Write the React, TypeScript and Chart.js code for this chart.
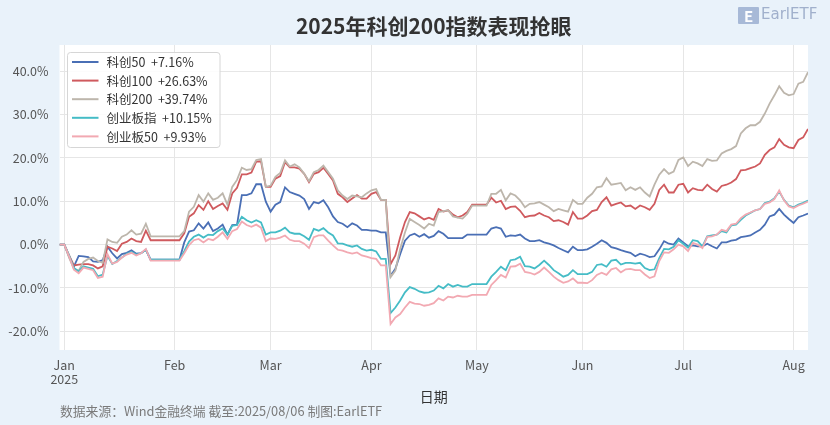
import { useEffect, useRef } from "react";
import { Chart, registerables } from "chart.js";

Chart.register(...registerables);

// business-day index: 0 = 2024-12-31 ... 156 = 2025-08-06 (holidays carry the previous close)
const monthTickIndex = [1, 24, 44, 65, 87, 109, 130, 153];
const monthTickLabels: (string | string[])[] = [["Jan", "2025"], "Feb", "Mar", "Apr", "May", "Jun", "Jul", "Aug"];
const yTicks = [-20, -10, 0, 10, 20, 30, 40];

const seriesNames = ["科创50", "科创100", "科创200", "创业板指", "创业板50"];
const seriesReturns = ["+7.16%", "+26.63%", "+39.74%", "+10.15%", "+9.93%"];
const seriesColors = ["#4a6fb5", "#cf5a5e", "#bdb6ac", "#45bcc6", "#f2a9b2"];

const kc50 = [
  0, 0, -2.8, -5.1, -2.6, -2.7, -2.9, -3.9, -4.0, -3.6,
  -0.5, -2.0, -3.2, -2.2, -1.9, -1.3, -2.1, -2.0, -1.2, -3.5,
  -3.5, -3.5, -3.5, -3.5, -3.5, -3.5, 0.5, 3.0, 3.3, 4.9,
  3.7, 5.1, 3.1, 3.7, 4.6, 2.3, 4.5, 4.6, 11.4, 11.4,
  11.8, 13.9, 13.9, 9.9, 7.6, 9.2, 9.8, 13.2, 12.1, 11.7,
  11.3, 10.5, 8.2, 9.8, 9.5, 10.2, 8.6, 6.5, 5.2, 4.8,
  4.0, 4.9, 4.4, 3.4, 3.4, 3.2, 3.2, 2.8, 2.8, -7.2,
  -5.6, -2.2, 0.9, 2.1, 2.5, 1.8, 2.4, 1.6, 2.0, 3.1,
  2.5, 1.5, 1.5, 1.5, 1.5, 2.3, 2.3, 2.3, 2.3, 2.3,
  3.7, 4.0, 3.7, 1.8, 2.1, 2.0, 2.3, 1.4, 0.8, 0.8,
  1.0, 0.5, 0.2, -0.2, -0.8, -1.3, -1.8, -0.5, -1.3, -1.3,
  -1.1, -0.5, 0.2, 1.0, 0.4, -0.6, -0.9, -1.3, -1.6, -1.9,
  -2.7, -2.1, -2.4, -2.9, -2.7, -1.1, 0.8, 0.2, 0.0, 1.4,
  0.5, -0.4, -0.2, -0.4, -0.4, 0.2, -0.4, -0.9, 0.5, 0.5,
  0.9, 1.1, 1.7, 1.9, 2.1, 2.8, 3.4, 4.6, 6.5, 6.9,
  8.2, 6.9, 5.9, 5.0, 6.3, 6.7, 7.16,
];

const kc100 = [
  0, 0, -2.5, -4.8, -4.6, -4.5, -4.5, -4.8, -5.5, -5.0,
  -0.5, -0.9, -1.5, 0.2, 0.6, 1.4, 0.8, 0.6, 3.2, 1.0,
  1.0, 1.0, 1.0, 1.0, 1.0, 1.0, 2.6, 6.4, 7.2, 9.1,
  8.0, 10.0, 8.2, 8.9, 9.5, 8.0, 11.8, 13.1, 16.2, 16.2,
  16.6, 19.1, 19.2, 13.3, 13.3, 15.2, 15.8, 19.0, 17.8, 17.8,
  17.5, 16.3, 14.4, 16.3, 16.7, 17.7, 16.3, 14.8, 11.7, 10.9,
  9.8, 10.6, 11.4, 10.6, 10.6, 11.7, 12.1, 10.3, 10.3, -4.5,
  -2.5, 1.7, 5.2, 7.5, 7.2, 6.5, 5.8, 6.2, 5.7, 8.2,
  7.6, 7.9, 6.9, 6.3, 6.7, 7.5, 9.2, 9.2, 9.2, 9.2,
  10.8, 9.7, 10.1, 8.2, 8.7, 8.8, 7.8, 6.3, 6.6, 6.7,
  7.3, 6.7, 6.3, 5.4, 5.6, 5.2, 4.6, 7.5, 6.0, 6.0,
  6.7, 7.7, 8.0, 9.8, 10.9, 9.0, 9.4, 9.7, 8.8, 9.0,
  8.2, 9.0, 8.6, 8.0, 9.4, 12.6, 13.8, 12.0, 12.0, 13.8,
  14.0, 12.0, 13.0, 12.6, 12.5, 13.8, 12.8, 12.2, 13.5, 13.8,
  14.3, 15.1, 17.1, 17.2, 17.6, 18.0, 18.7, 20.7, 21.8, 22.4,
  24.3, 23.0, 22.4, 22.2, 24.1, 24.7, 26.63,
];

const kc200 = [
  0, 0, -3.0, -5.6, -6.0, -4.0, -3.3, -3.0, -3.8, -4.2,
  1.2, 0.6, 0.4, 1.8, 2.3, 3.3, 2.3, 2.5, 4.8, 1.9,
  1.9, 1.9, 1.9, 1.9, 1.9, 1.9, 3.1, 7.6, 8.7, 11.4,
  9.9, 11.8, 10.3, 10.8, 11.8, 9.2, 13.3, 14.9, 17.7, 17.2,
  17.4, 19.5, 19.7, 13.3, 13.6, 15.6, 16.5, 19.4, 18.0, 18.5,
  17.8, 16.3, 14.6, 16.7, 17.2, 18.2, 16.7, 15.2, 12.5, 11.3,
  10.5, 11.3, 11.1, 10.9, 11.8, 12.5, 12.8, 10.3, 10.3, -7.5,
  -6.0, -1.0, 2.8, 5.9, 5.2, 4.5, 3.7, 4.8, 4.4, 7.5,
  7.7, 7.9, 6.5, 6.2, 6.0, 7.1, 9.0, 9.0, 9.0, 9.0,
  11.7, 11.7, 12.6, 10.2, 11.8, 11.3, 10.2, 8.6, 9.4, 9.5,
  9.8, 9.2, 8.6, 7.7, 8.2, 7.9, 7.6, 10.3, 9.4, 9.4,
  10.8, 11.7, 13.2, 13.4, 15.3, 13.8, 14.0, 14.2, 12.5, 13.2,
  12.6, 13.2, 12.0, 11.1, 13.8, 16.1, 17.4, 16.3, 16.8, 19.5,
  20.1, 18.1, 19.1, 18.7, 18.1, 19.7, 19.3, 19.4, 21.0, 21.6,
  22.0, 22.7, 25.6, 26.8, 27.5, 27.5, 28.3, 30.2, 32.5, 34.4,
  36.5, 35.0, 34.4, 34.7, 37.1, 37.5, 39.74,
];

const cyb = [
  0, 0, -2.5, -5.4, -6.2, -5.0, -5.3, -5.6, -7.3, -6.9,
  -2.6, -4.5, -3.8, -3.0, -2.1, -1.7, -2.3, -2.0, -1.2, -3.5,
  -3.5, -3.5, -3.5, -3.5, -3.5, -3.5, -1.5, 0.7, 1.8, 2.3,
  1.6, 2.3, 2.2, 3.1, 3.7, 2.3, 4.3, 4.5, 6.4, 5.6,
  5.1, 5.6, 5.1, 2.3, 2.8, 2.8, 3.2, 3.9, 2.8, 2.5,
  2.5, 1.9, 1.1, 3.6, 3.2, 3.8, 2.8, 2.1, 0.3, 0.2,
  -0.2, -0.5, -0.2, -1.0, -1.4, -1.2, -1.6, -3.3, -3.3, -15.8,
  -14.5, -12.9, -11.0, -9.8, -10.2, -10.8, -11.1, -11.0, -10.6, -9.5,
  -10.1, -9.1, -9.7, -9.3, -9.7, -9.7, -9.1, -9.1, -9.1, -9.1,
  -7.4, -6.3, -5.1, -5.9, -3.6, -3.4, -2.8, -5.0, -5.1, -5.5,
  -4.7, -3.7, -4.7, -5.9, -6.6, -7.4, -7.0, -5.9, -6.8, -6.8,
  -6.8, -6.3, -4.7, -4.5, -5.1, -3.7, -3.5, -4.6, -4.2, -4.2,
  -4.4, -4.2, -5.4, -5.9, -5.7, -3.1, -1.0, -1.1, -0.5, 1.0,
  0.2, -0.7, 1.0, 0.8, -0.4, 1.9, 2.1, 2.3, 3.1, 2.8,
  4.4, 4.6, 5.7, 6.7, 7.3, 7.9, 8.2, 9.6, 9.9, 10.7,
  12.2, 10.3, 9.0, 8.6, 9.2, 9.6, 10.15,
];

const cyb50 = [
  0, 0, -2.7, -5.8, -6.6, -5.3, -5.6, -5.9, -7.7, -7.4,
  -2.2, -4.4, -4.0, -3.0, -2.3, -1.9, -2.5, -2.0, -1.0, -3.7,
  -3.7, -3.7, -3.7, -3.7, -3.7, -3.7, -2.0, -0.1, 1.0, 1.3,
  0.5, 1.3, 1.0, 1.8, 2.8, 1.3, 3.1, 3.6, 5.3, 4.5,
  4.1, 4.6, 3.9, 0.8, 1.4, 1.3, 1.6, 2.1, 1.1, 0.8,
  0.8, 0.2, -0.8, 1.7, 2.1, 2.1, 0.9, -0.2, -1.2, -1.4,
  -1.8, -2.1, -1.8, -2.5, -2.8, -3.1, -3.3, -4.8, -4.8, -18.3,
  -16.8, -16.0, -14.5, -13.2, -13.6, -13.7, -14.1, -13.9, -13.5, -12.4,
  -12.9, -12.0, -12.2, -11.8, -12.0, -12.0, -11.6, -11.6, -11.6, -11.6,
  -9.3, -8.2, -7.0, -7.6, -5.1, -5.0, -4.4, -6.3, -6.5, -6.9,
  -6.3, -5.3, -6.3, -7.4, -8.2, -8.8, -8.5, -7.8, -8.8, -8.8,
  -8.9, -8.2, -7.0, -6.5, -7.0, -5.7, -5.4, -6.4, -5.7, -5.6,
  -5.9, -5.9, -6.9, -7.7, -7.3, -3.8, -1.8, -1.9, -1.1, 0.0,
  -0.4, -1.5, 0.4, 0.0, -0.8, 1.8, 1.9, 2.3, 3.4, 3.1,
  4.6, 4.8, 6.1, 6.9, 7.4, 7.9, 8.2, 9.4, 9.7, 10.5,
  12.5, 10.2, 8.8, 8.4, 9.0, 9.4, 9.93,
];

const allSeries = [kc50, kc100, kc200, cyb, cyb50];

const FONT = '"Noto Sans CJK SC", "Noto Sans", sans-serif';

const plotBackground = {
  id: "plotBackground",
  beforeDraw(chart: any) {
    const { ctx, chartArea } = chart;
    ctx.save();
    ctx.fillStyle = "#ffffff";
    ctx.fillRect(chartArea.left, chartArea.top, chartArea.right - chartArea.left, chartArea.bottom - chartArea.top);
    ctx.restore();
  },
};

const boxLegend = {
  id: "boxLegend",
  afterDatasetsDraw(chart: any) {
    const { ctx, chartArea } = chart;
    const x = chartArea.left + 8;
    const y = chartArea.top + 7.5;
    const w = 152.5;
    const h = 95;
    ctx.save();
    ctx.beginPath();
    ctx.roundRect(x, y, w, h, 3);
    ctx.fillStyle = "rgba(255,255,255,0.85)";
    ctx.fill();
    ctx.strokeStyle = "#d6d6d6";
    ctx.lineWidth = 1;
    ctx.stroke();
    ctx.font = `12.5px ${FONT}`;
    ctx.textBaseline = "middle";
    seriesNames.forEach((name, k) => {
      const ry = y + 9.5 + k * 18.6;
      ctx.beginPath();
      ctx.moveTo(x + 4.5, ry);
      ctx.lineTo(x + 31, ry);
      ctx.strokeStyle = seriesColors[k];
      ctx.lineWidth = 2;
      ctx.stroke();
      ctx.fillStyle = "#333333";
      ctx.fillText(`${name}  ${seriesReturns[k]}`, x + 39, ry + 0.5);
    });
    ctx.restore();
  },
};

export default function App() {
  const canvasRef = useRef<HTMLCanvasElement | null>(null);

  useEffect(() => {
    if (!canvasRef.current) return;
    const datasets = allSeries.map((values, k) => ({
      label: seriesNames[k],
      data: values.map((v, i) => ({ x: i, y: v })),
      borderColor: seriesColors[k],
      backgroundColor: seriesColors[k],
      borderWidth: 1.8,
      pointRadius: 0,
      tension: 0,
      order: 5 - k,
    }));
    const chart = new Chart(canvasRef.current, {
      type: "line",
      data: { datasets },
      options: {
        animation: false,
        responsive: false,
        layout: { padding: { left: 0, right: 22, top: 45, bottom: 0 } },
        plugins: {
          legend: { display: false },
          tooltip: { enabled: false },
        },
        scales: {
          x: {
            type: "linear",
            min: 0,
            max: 156,
            afterBuildTicks: (s: any) => {
              s.ticks = monthTickIndex.map((v) => ({ value: v }));
            },
            afterFit: (s: any) => {
              s.height = 75;
            },
            ticks: {
              autoSkip: false,
              maxRotation: 0,
              padding: 8,
              color: "#555555",
              font: { family: FONT, size: 12.5, lineHeight: 1.15 },
              callback: (_v: any, index: number) => monthTickLabels[index],
            },
            grid: { color: "#e6e6e6", drawTicks: false, lineWidth: 1 },
            border: { display: false },
          },
          y: {
            min: -24.3,
            max: 46,
            afterBuildTicks: (s: any) => {
              s.ticks = yTicks.map((v) => ({ value: v }));
            },
            afterFit: (s: any) => {
              s.width = 59.5;
            },
            ticks: {
              padding: 11,
              color: "#555555",
              font: { family: FONT, size: 12.5 },
              callback: (v: any) => `${Number(v).toFixed(1)}%`,
            },
            grid: { color: "#e6e6e6", drawTicks: false, lineWidth: 1 },
            border: { display: false },
          },
        },
      },
      plugins: [plotBackground, boxLegend],
    } as any);
    return () => chart.destroy();
  }, []);

  return (
    <div
      style={{
        position: "fixed",
        left: 0,
        top: 0,
        width: 830,
        height: 425,
        background: "#e9f2fa",
        overflow: "hidden",
        fontFamily: FONT,
      }}
    >
      <canvas ref={canvasRef} width={830} height={425} style={{ position: "absolute", left: 0, top: 0, width: 830, height: 425 }} />
      <div
        style={{
          position: "absolute",
          left: 59.5,
          width: 748.5,
          top: 12,
          lineHeight: "26px",
          textAlign: "center",
          fontSize: 21,
          fontWeight: 700,
          color: "#333333",
        }}
      >
        2025年科创200指数表现抢眼
      </div>
      <div
        style={{
          position: "absolute",
          left: 59.5,
          width: 748.5,
          top: 386,
          lineHeight: "20px",
          textAlign: "center",
          fontSize: 14,
          color: "#333333",
        }}
      >
        日期
      </div>
      <div
        style={{
          position: "absolute",
          left: 60,
          top: 403,
          lineHeight: "16px",
          fontSize: 12.8,
          color: "#7a7a7a",
          whiteSpace: "nowrap",
        }}
      >
        数据来源：Wind金融终端 截至:2025/08/06 制图:EarlETF
      </div>
      <div style={{ position: "absolute", left: 738, top: 7, display: "flex", alignItems: "flex-start", opacity: 0.85 }}>
        <div
          style={{
            width: 21,
            height: 17,
            background: "#9cb0d0",
            color: "#ffffff",
            fontSize: 15,
            fontWeight: 700,
            lineHeight: "17px",
            textAlign: "center",
            borderRadius: 1,
          }}
        >
          E
        </div>
        <div style={{ marginLeft: 2, fontSize: 15, lineHeight: "15px", color: "#94a5c4", fontFamily: '"DejaVu Sans", sans-serif' }}>
          EarlETF
        </div>
      </div>
    </div>
  );
}
